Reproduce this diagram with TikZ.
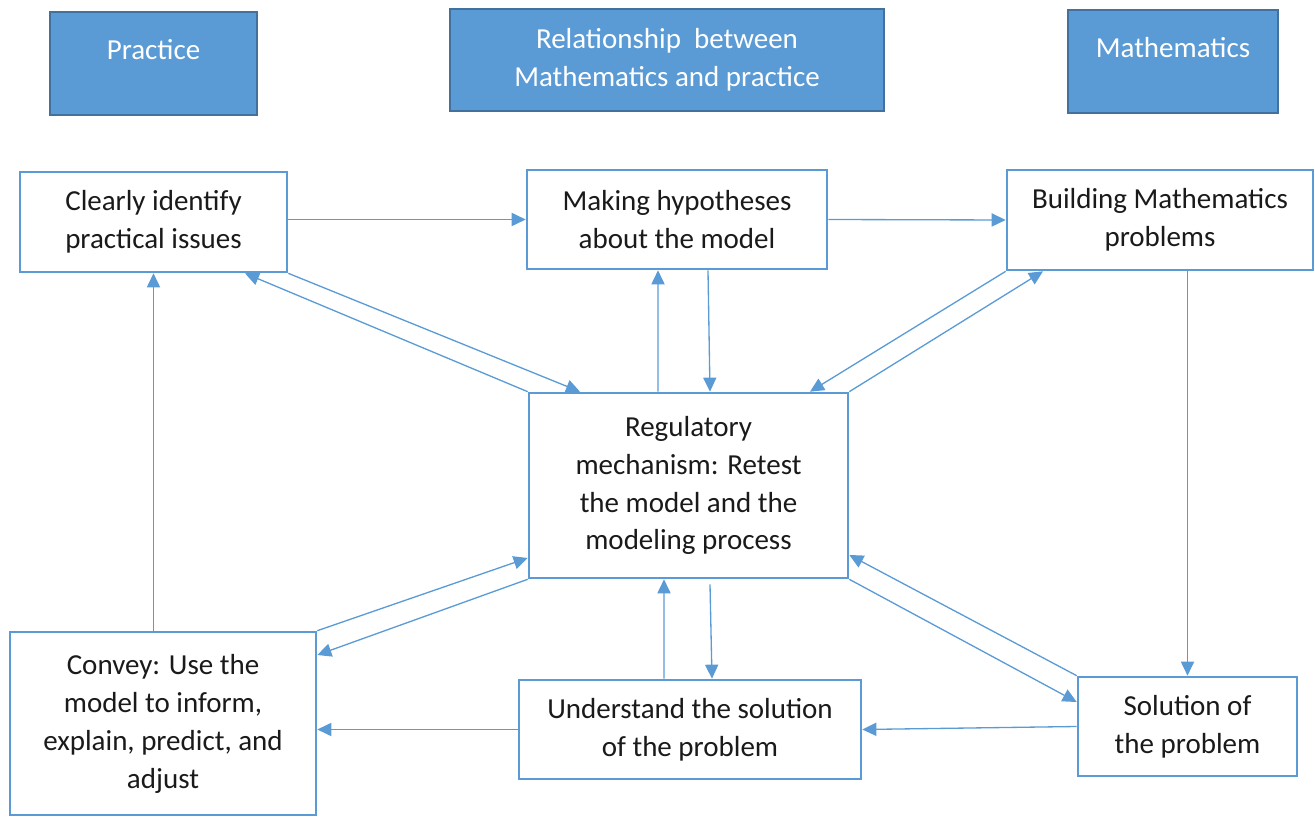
\documentclass[tikz,border=0pt]{standalone}
\usepackage{fontspec}
\setmainfont{Carlito}
\usetikzlibrary{arrows.meta}
\definecolor{accblue}{HTML}{5B9BD5}
\definecolor{accdark}{HTML}{41719C}
\definecolor{inkgray}{HTML}{1A1A1A}

\begin{document}
\begin{tikzpicture}[x=0.02cm, y=-0.02cm,
    every node/.style={font=\fontsize{16.5}{21.6}\selectfont, inner sep=0pt},
    head/.style={draw=accdark, fill=accblue, line width=1.3pt, text=white, align=center},
    box/.style={draw=accblue, fill=white, line width=1.5pt, text=inkgray, align=center},
    link/.style={draw=accblue, line width=0.75pt, -{Triangle[length=8pt,width=7.5pt]}}]
    \useasboundingbox (0,0) rectangle (1315,817);
    % headings
    \node[head, minimum width=4.14cm, minimum height=2.06cm, text height=12pt, text depth=16pt] (prac) at (153.5,63.5) {Practice};
    \node[head, minimum width=8.68cm, minimum height=2.04cm] (rel) at (667,60) {Relationship\ \ between\\Mathematics and practice};
    \node[head, minimum width=4.2cm, minimum height=2.06cm, text height=12pt, text depth=16pt] (math) at (1173,61.5) {Mathematics};
    % steps
    \node[box, minimum width=5.34cm, minimum height=2cm] (clear) at (153.5,222) {Clearly identify\\practical issues};
    \node[box, minimum width=6cm, minimum height=1.98cm] (hyp) at (677,219.5) {Making hypotheses\\about the model};
    \node[box, minimum width=6.12cm, minimum height=2cm] (build) at (1160,220) {Building Mathematics\\problems};
    \node[box, minimum width=6.38cm, minimum height=3.7cm] (reg) at (688.5,485.5) {Regulatory\\mechanism: Retest\\the model and the\\modeling process};
    \node[box, minimum width=6.12cm, minimum height=3.66cm] (conv) at (163,723.5) {Convey: Use the\\model to inform,\\explain, predict, and\\adjust};
    \node[box, minimum width=6.84cm, minimum height=1.98cm] (under) at (690,729.5) {Understand the solution\\of the problem};
    \node[box, minimum width=4.38cm, minimum height=1.98cm] (sol) at (1187.5,726.5) {Solution of\\the problem};
    % outer cycle
    \draw[link] (clear.east |- hyp.west) -- (hyp.west);
    \draw[link] (hyp.east) -- (build.west);
    \draw[link] (sol.north |- build.south) -- (sol.north);
    \draw[link] (sol.west) -- (under.east);
    \draw[link] (under.west) -- (conv.east |- under.west);
    \draw[link] (clear.south |- conv.north) -- (clear.south);
    % up and down pairs
    \draw[link] ([xshift=-0.61cm]reg.north) -- ([xshift=-0.38cm]hyp.south);
    \draw[link] ([xshift=0.62cm]hyp.south) -- ([xshift=0.43cm]reg.north);
    \draw[link] ([xshift=-0.52cm]under.north) -- ([xshift=-0.49cm]reg.south);
    \draw[link] ([xshift=0.43cm, yshift=-0.1cm]reg.south) -- ([xshift=0.44cm]under.north);
    % diagonal pairs
    \draw[link] (clear.south east) -- ([xshift=-2.17cm]reg.north);
    \draw[link] (reg.north west) -- ([xshift=1.83cm]clear.south);
    \draw[link] (build.south west) -- ([xshift=2.43cm]reg.north);
    \draw[link] (reg.north east) -- ([xshift=-2.34cm]build.south);
    \draw[link] (conv.north east) -- ([yshift=-1.45cm]reg.west);
    \draw[link] (reg.south west) -- ([yshift=1.37cm]conv.east);
    \draw[link] (sol.north west) -- ([yshift=-1.39cm]reg.east);
    \draw[link] (reg.south east) -- ([yshift=0.49cm]sol.west);
\end{tikzpicture}
\end{document}
